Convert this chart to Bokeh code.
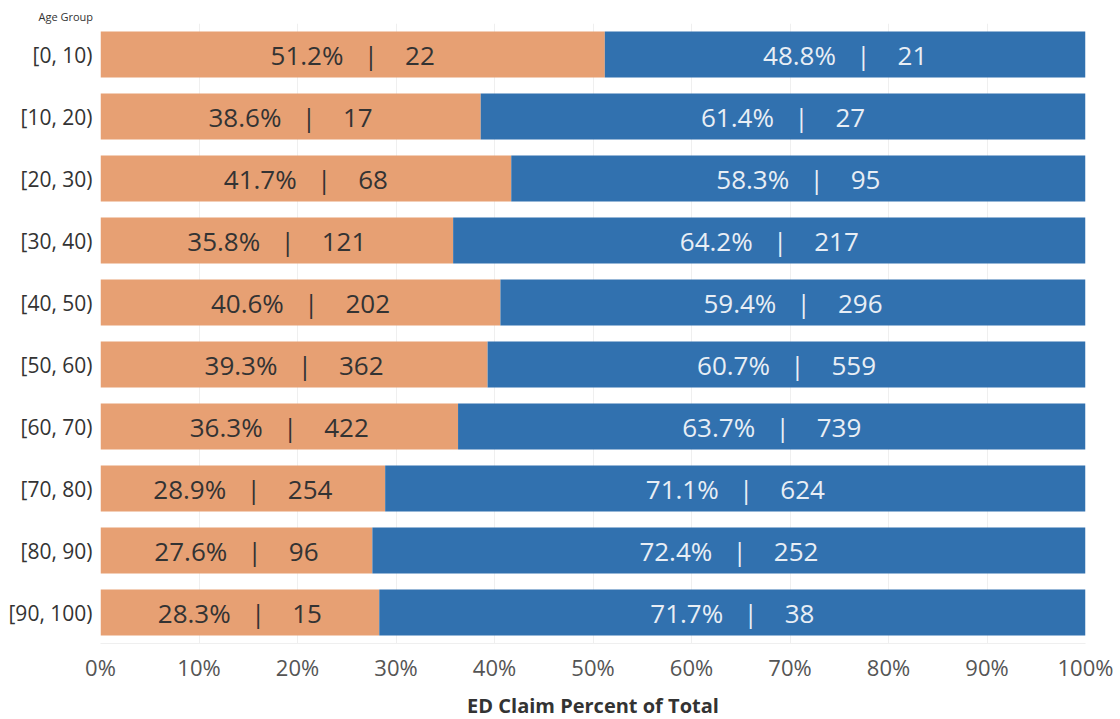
from bokeh.plotting import figure
from bokeh.models import ColumnDataSource, FactorRange, Range1d, NumeralTickFormatter, FixedTicker
from bokeh.core.properties import value
from bokeh.embed import file_html
from bokeh.resources import INLINE

age_groups = ["[0, 10)", "[10, 20)", "[20, 30)", "[30, 40)", "[40, 50)",
              "[50, 60)", "[60, 70)", "[70, 80)", "[80, 90)", "[90, 100)"]
orange_pct = [51.2, 38.6, 41.7, 35.8, 40.6, 39.3, 36.3, 28.9, 27.6, 28.3]
orange_cnt = [22, 17, 68, 121, 202, 362, 422, 254, 96, 15]
blue_pct = [48.8, 61.4, 58.3, 64.2, 59.4, 60.7, 63.7, 71.1, 72.4, 71.7]
blue_cnt = [21, 27, 95, 217, 296, 559, 739, 624, 252, 38]
x_ticks = [0.0, 0.1, 0.2, 0.3, 0.4, 0.5, 0.6, 0.7, 0.8, 0.9, 1.0]

ORANGE = "#E7A073"
BLUE = "#3171AF"
FONT = "Open Sans"
SEP = "\u00a0\u00a0\u00a0|\u00a0\u00a0\u00a0\u00a0"

o_frac = [v / 100 for v in orange_pct]
b_frac = [v / 100 for v in blue_pct]

src = ColumnDataSource(dict(
    age=age_groups,
    o_left=[0.0] * len(age_groups),
    o_right=o_frac,
    b_left=o_frac,
    b_right=[o + b for o, b in zip(o_frac, b_frac)],
    o_mid=[o / 2 for o in o_frac],
    b_mid=[o + b / 2 for o, b in zip(o_frac, b_frac)],
    o_label=[f"{p:.1f}%{SEP}{c}" for p, c in zip(orange_pct, orange_cnt)],
    b_label=[f"{p:.1f}%{SEP}{c}" for p, c in zip(blue_pct, blue_cnt)],
))

p = figure(
    frame_width=985, frame_height=620,
    y_range=FactorRange(factors=list(reversed(age_groups)), range_padding=0),
    x_range=Range1d(0, 1),
    output_backend="svg", toolbar_location=None,
    min_border_left=100, min_border_right=33, min_border_top=23, min_border_bottom=10,
    title="Age Group",
)
p.title.text_font = FONT
p.title.text_font_size = "11px"
p.title.text_font_style = "normal"
p.title.text_color = "#333333"
p.title.align = "left"
p.title.offset = -62
p.title.standoff = 0

p.hbar(y="age", left="o_left", right="o_right", height=0.74, source=src,
       fill_color=ORANGE, line_color=None)
p.hbar(y="age", left="b_left", right="b_right", height=0.74, source=src,
       fill_color=BLUE, line_color=None)

p.text(x="o_mid", y="age", text="o_label", source=src,
       text_align="center", text_baseline="middle",
       text_font=value(FONT), text_font_size="26px", text_color="#333333")
p.text(x="b_mid", y="age", text="b_label", source=src,
       text_align="center", text_baseline="middle",
       text_font=value(FONT), text_font_size="26px", text_color="#E8EEF5")

p.outline_line_color = None
p.background_fill_color = "white"
p.border_fill_color = "white"

p.xgrid.grid_line_color = "#EFEFEF"
p.xgrid.ticker = FixedTicker(ticks=x_ticks)
p.ygrid.grid_line_color = None

p.xaxis.ticker = FixedTicker(ticks=x_ticks)
p.xaxis.formatter = NumeralTickFormatter(format="0%")
p.xaxis.axis_label = "ED Claim Percent of Total"
p.xaxis.axis_label_text_font = FONT
p.xaxis.axis_label_text_font_size = "20px"
p.xaxis.axis_label_text_font_style = "bold"
p.xaxis.axis_label_text_color = "#333333"
p.xaxis.axis_label_standoff = 7
p.xaxis.major_label_text_font = FONT
p.xaxis.major_label_text_font_size = "22px"
p.xaxis.major_label_text_color = "#555555"
p.xaxis.major_label_standoff = 2
p.xaxis.major_tick_line_color = None
p.xaxis.minor_tick_line_color = None
p.xaxis.axis_line_color = "#EFEFEF"

p.yaxis.major_label_text_font = FONT
p.yaxis.major_label_text_font_size = "21px"
p.yaxis.major_label_text_color = "#333333"
p.yaxis.major_label_standoff = 2
p.yaxis.major_tick_line_color = None
p.yaxis.minor_tick_line_color = None
p.yaxis.axis_line_color = None

open("out.html", "w").write(file_html(p, INLINE))
